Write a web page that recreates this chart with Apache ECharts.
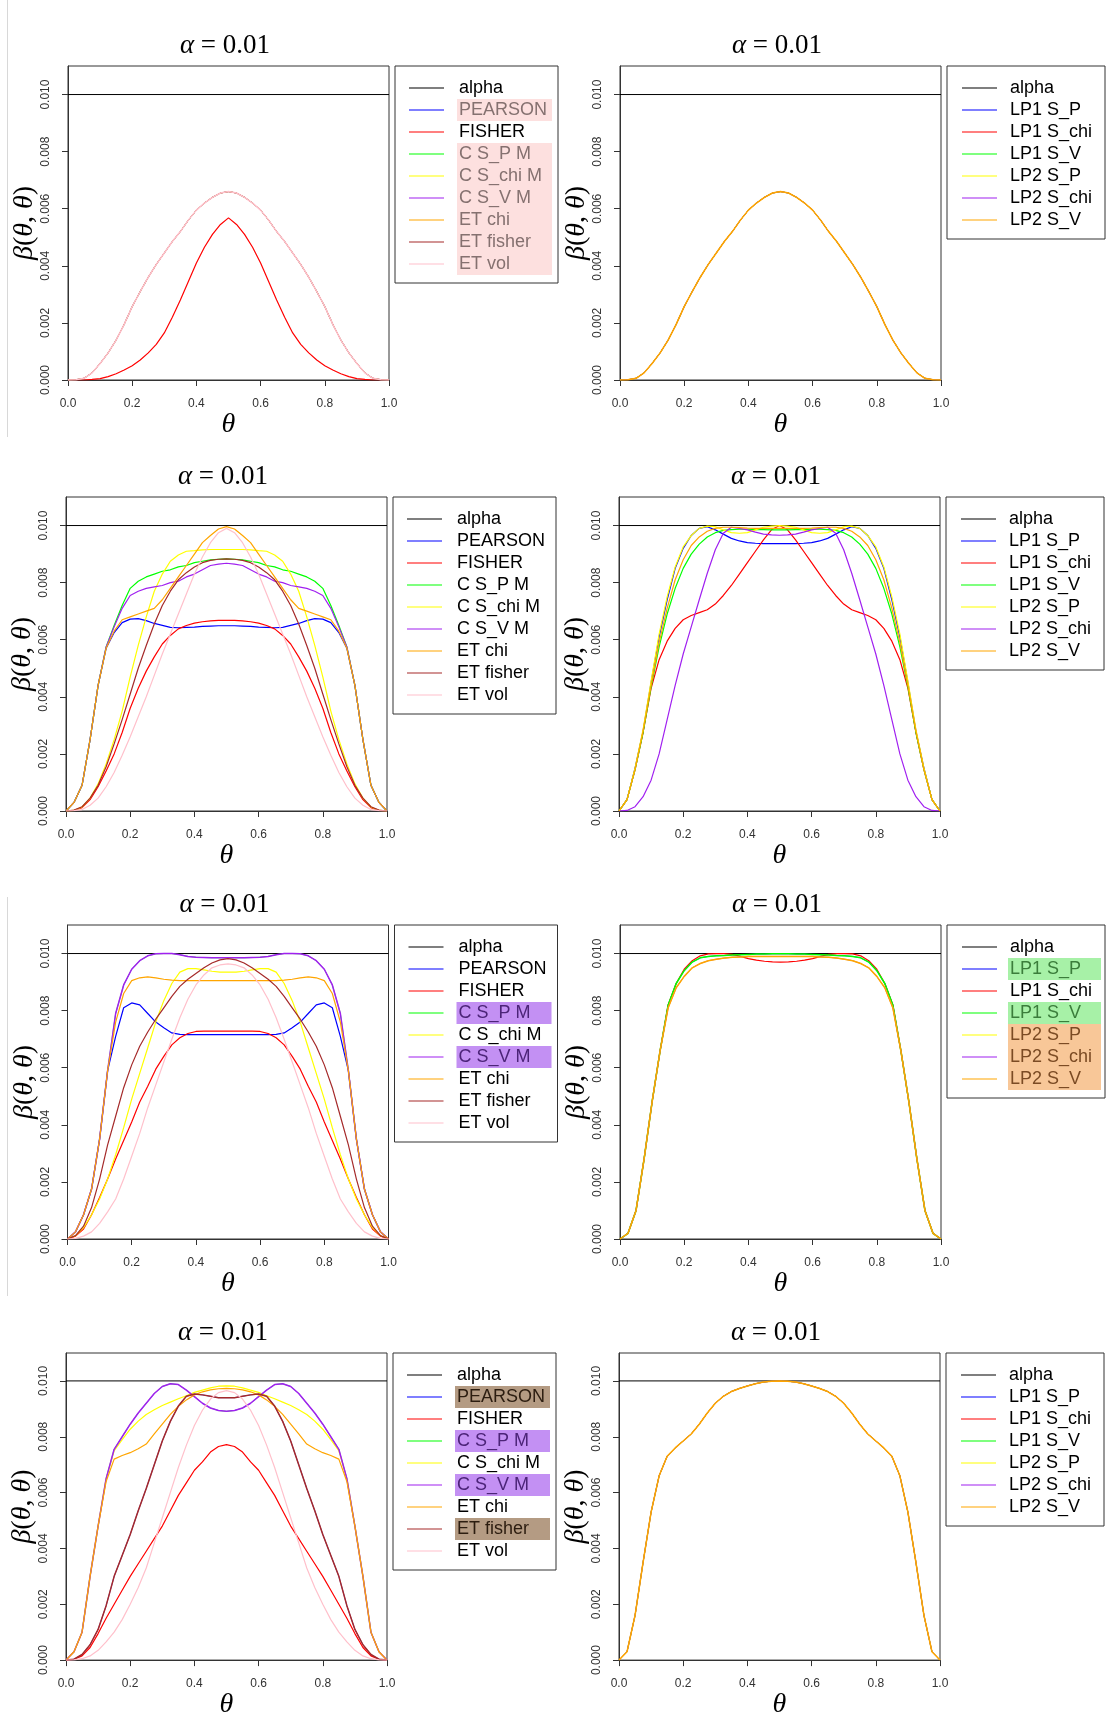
<!DOCTYPE html>
<html>
<head>
<meta charset="utf-8">
<script src="https://cdn.jsdelivr.net/npm/echarts@6/dist/echarts.min.js"></script>
<style>
  html, body { margin: 0; padding: 0; background: #ffffff; }
  #chart { width: 1108px; height: 1720px; }
</style>
</head>
<body>
<div id="chart"></div>
<script>
// Size of the test, beta(theta, theta), on a grid of theta values.
// Curve values are given in units of 1e-3.
const theta = [0,0.025,0.05,0.075,0.1,0.125,0.15,0.175,0.2,0.225,0.25,0.275,0.3,0.325,0.35,0.375,0.4,0.425,0.45,0.475,0.5,
  0.525,0.55,0.575,0.6,0.625,0.65,0.675,0.7,0.725,0.75,0.775,0.8,0.825,0.85,0.875,0.9,0.925,0.95,0.975,1];

const alphaLevel = 0.01;
const yTicks = [0, 0.002, 0.004, 0.006, 0.008, 0.010];

const namesET = ['alpha', 'PEARSON', 'FISHER', 'C S_P M', 'C S_chi M', 'C S_V M', 'ET chi', 'ET fisher', 'ET vol'];
const colorsET = ['#000000', '#0000FF', '#FF0000', '#00FF00', '#FFFF00', '#A020F0', '#FFA500', '#A52A2A', '#FFC0CB'];
const namesLP = ['alpha', 'LP1 S_P', 'LP1 S_chi', 'LP1 S_V', 'LP2 S_P', 'LP2 S_chi', 'LP2 S_V'];
const colorsLP = ['#000000', '#0000FF', '#FF0000', '#00FF00', '#FFFF00', '#A020F0', '#FFA500'];

// Row 1
const r1Common = [0,0.01,0.06,0.25,0.58,0.95,1.4,1.95,2.57,3.1,3.6,4.05,4.45,4.85,5.2,5.6,5.95,6.2,6.4,6.55,6.6,6.55,6.4,6.2,5.95,5.6,5.2,4.85,4.45,4.05,3.6,3.1,2.57,1.95,1.4,0.95,0.58,0.25,0.06,0.01,0];
const r1Fisher = [0,0,0,0.02,0.05,0.12,0.22,0.35,0.5,0.7,0.95,1.25,1.65,2.2,2.8,3.45,4.1,4.65,5.1,5.45,5.68,5.45,5.1,4.65,4.1,3.45,2.8,2.2,1.65,1.25,0.95,0.7,0.5,0.35,0.22,0.12,0.05,0.02,0,0,0];

// Row 2, left
const r2Pearson = [0,0.3,0.9,2.5,4.4,5.7,6.25,6.6,6.72,6.74,6.67,6.57,6.5,6.43,6.42,6.43,6.44,6.47,6.48,6.49,6.49,6.49,6.48,6.47,6.44,6.43,6.42,6.43,6.5,6.57,6.67,6.74,6.72,6.6,6.25,5.7,4.4,2.5,0.9,0.3,0];
const r2Fisher = [0,0.02,0.12,0.4,0.85,1.4,2.0,2.75,3.6,4.3,4.9,5.4,5.85,6.15,6.38,6.5,6.58,6.63,6.66,6.68,6.68,6.68,6.66,6.63,6.58,6.5,6.38,6.15,5.85,5.4,4.9,4.3,3.6,2.75,2.0,1.4,0.85,0.4,0.12,0.02,0];
const r2CsP = [0,0.3,0.9,2.5,4.4,5.75,6.5,7.2,7.8,8.05,8.2,8.3,8.4,8.45,8.55,8.6,8.7,8.75,8.8,8.82,8.83,8.82,8.8,8.75,8.7,8.6,8.55,8.45,8.4,8.3,8.2,8.05,7.8,7.2,6.5,5.75,4.4,2.5,0.9,0.3,0];
const r2CsChi = [0,0.02,0.14,0.45,0.95,1.65,2.5,3.5,4.7,5.8,6.8,7.7,8.3,8.75,8.97,9.1,9.12,9.15,9.16,9.16,9.16,9.16,9.16,9.15,9.12,9.1,8.97,8.75,8.3,7.7,6.8,5.8,4.7,3.5,2.5,1.65,0.95,0.45,0.14,0.02,0];
const r2CsV = [0,0.3,0.9,2.5,4.4,5.75,6.45,7.1,7.55,7.7,7.8,7.85,7.9,8.0,8.05,8.2,8.3,8.45,8.6,8.65,8.68,8.65,8.6,8.45,8.3,8.2,8.05,8.0,7.9,7.85,7.8,7.7,7.55,7.1,6.45,5.75,4.4,2.5,0.9,0.3,0];
const r2EtChi = [0,0.3,0.9,2.5,4.4,5.7,6.3,6.7,6.8,6.9,7.0,7.1,7.4,7.8,8.2,8.6,9.0,9.4,9.65,9.88,9.96,9.88,9.65,9.4,9.0,8.6,8.2,7.8,7.4,7.1,7.0,6.9,6.8,6.7,6.3,5.7,4.4,2.5,0.9,0.3,0];
const r2EtFisher = [0,0.03,0.15,0.45,0.9,1.55,2.35,3.2,4.1,5.0,5.8,6.55,7.2,7.7,8.1,8.35,8.55,8.7,8.78,8.82,8.83,8.82,8.78,8.7,8.55,8.35,8.1,7.7,7.2,6.55,5.8,5.0,4.1,3.2,2.35,1.55,0.9,0.45,0.15,0.03,0];
const r2EtVol = [0,0.01,0.05,0.2,0.45,0.85,1.35,1.95,2.6,3.3,4.0,4.75,5.5,6.2,6.9,7.6,8.3,8.9,9.4,9.75,9.9,9.75,9.4,8.9,8.3,7.6,6.9,6.2,5.5,4.75,4.0,3.3,2.6,1.95,1.35,0.85,0.45,0.2,0.05,0.01,0];

// Row 2, right
const r2Lp1SP = [0,0.4,1.5,2.8,4.5,6.1,7.4,8.5,9.2,9.65,9.9,9.96,9.85,9.7,9.55,9.46,9.4,9.38,9.37,9.37,9.37,9.37,9.37,9.38,9.4,9.46,9.55,9.7,9.85,9.96,9.9,9.65,9.2,8.5,7.4,6.1,4.5,2.8,1.5,0.4,0];
const r2Lp1SChi = [0,0.4,1.45,2.75,4.3,5.3,5.95,6.4,6.7,6.85,6.95,7.05,7.25,7.55,7.9,8.3,8.7,9.1,9.5,9.85,10.0,9.85,9.5,9.1,8.7,8.3,7.9,7.55,7.25,7.05,6.95,6.85,6.7,6.4,5.95,5.3,4.3,2.75,1.45,0.4,0];
const r2Lp1SV = [0,0.4,1.45,2.75,4.35,5.75,6.9,7.8,8.5,9.0,9.35,9.6,9.75,9.83,9.86,9.87,9.87,9.86,9.86,9.85,9.85,9.85,9.86,9.86,9.87,9.87,9.86,9.83,9.75,9.6,9.35,9.0,8.5,7.8,6.9,5.75,4.35,2.75,1.45,0.4,0];
const r2Lp2SP = [0,0.4,1.5,2.85,4.55,6.2,7.5,8.55,9.25,9.65,9.9,9.98,9.96,9.85,9.75,9.73,9.75,9.85,9.94,9.98,10.0,9.98,9.94,9.85,9.75,9.73,9.75,9.85,9.96,9.98,9.9,9.65,9.25,8.55,7.5,6.2,4.55,2.85,1.5,0.4,0];
const r2Lp2SChi = [0,0.02,0.15,0.5,1.08,2.0,3.2,4.4,5.5,6.45,7.4,8.33,9.15,9.73,9.94,9.9,9.85,9.77,9.7,9.67,9.66,9.67,9.7,9.77,9.85,9.9,9.94,9.73,9.15,8.33,7.4,6.45,5.5,4.4,3.2,2.0,1.08,0.5,0.15,0.02,0];
const r2Lp2SV = [0,0.4,1.45,2.8,4.4,5.9,7.1,8.1,8.8,9.3,9.6,9.8,9.9,9.94,9.94,9.93,9.91,9.9,9.9,9.9,9.9,9.9,9.9,9.9,9.91,9.93,9.94,9.94,9.9,9.8,9.6,9.3,8.8,8.1,7.1,5.9,4.4,2.8,1.45,0.4,0];

// Row 3, left
const r3Pearson = [0,0.25,0.85,1.75,3.5,5.9,7.1,8.1,8.27,8.2,7.9,7.6,7.4,7.22,7.17,7.16,7.16,7.16,7.16,7.16,7.16,7.16,7.16,7.16,7.16,7.16,7.17,7.22,7.4,7.6,7.9,8.2,8.27,8.1,7.1,5.9,3.5,1.75,0.85,0.25,0];
const r3Fisher = [0,0.1,0.35,0.85,1.45,2.1,2.8,3.45,4.1,4.8,5.35,5.95,6.4,6.8,7.05,7.2,7.27,7.28,7.28,7.28,7.28,7.28,7.28,7.28,7.27,7.2,7.05,6.8,6.4,5.95,5.35,4.8,4.1,3.45,2.8,2.1,1.45,0.85,0.35,0.1,0];
const r3CsPV = [0,0.25,0.85,1.75,3.5,5.9,7.9,8.9,9.45,9.75,9.92,9.99,10.0,10.0,9.96,9.9,9.87,9.86,9.85,9.85,9.85,9.85,9.85,9.86,9.87,9.9,9.96,10.0,10.0,9.99,9.92,9.75,9.45,8.9,7.9,5.9,3.5,1.75,0.85,0.25,0];
const r3CsChi = [0,0.12,0.4,0.85,1.4,2.1,2.95,3.9,4.9,5.8,6.7,7.6,8.35,8.95,9.35,9.47,9.47,9.43,9.38,9.35,9.35,9.35,9.38,9.43,9.47,9.47,9.35,8.95,8.35,7.6,6.7,5.8,4.9,3.9,2.95,2.1,1.4,0.85,0.4,0.12,0];
const r3EtChi = [0,0.25,0.85,1.75,3.5,5.9,7.6,8.6,9.05,9.15,9.18,9.15,9.1,9.07,9.05,9.05,9.05,9.05,9.05,9.05,9.05,9.05,9.05,9.05,9.05,9.05,9.05,9.07,9.1,9.15,9.18,9.15,9.05,8.6,7.6,5.9,3.5,1.75,0.85,0.25,0];
const r3EtFisher = [0,0.12,0.45,1.1,2.1,3.3,4.3,5.3,6.1,6.75,7.25,7.7,8.1,8.5,8.85,9.1,9.3,9.5,9.67,9.78,9.82,9.78,9.67,9.5,9.3,9.1,8.85,8.5,8.1,7.7,7.25,6.75,6.1,5.3,4.3,3.3,2.1,1.1,0.45,0.12,0];
const r3EtVol = [0,0.02,0.1,0.25,0.55,0.95,1.4,2.1,2.9,3.7,4.6,5.4,6.2,7.0,7.75,8.4,8.9,9.25,9.5,9.6,9.64,9.6,9.5,9.25,8.9,8.4,7.75,7.0,6.2,5.4,4.6,3.7,2.9,2.1,1.4,0.95,0.55,0.25,0.1,0.02,0];

// Row 3, right
const r3Lp1SPV = [0,0.2,1.0,2.8,4.8,6.6,8.2,8.95,9.4,9.7,9.85,9.9,9.92,9.93,9.95,9.96,9.97,9.98,9.98,9.99,9.99,9.99,9.98,9.98,9.97,9.96,9.95,9.93,9.92,9.9,9.85,9.7,9.4,8.95,8.2,6.6,4.8,2.8,1.0,0.2,0];
const r3Lp1SChi = [0,0.2,1.0,2.8,4.8,6.6,8.2,8.95,9.45,9.75,9.92,9.99,10.0,10.0,9.97,9.9,9.82,9.77,9.73,9.71,9.7,9.71,9.73,9.77,9.82,9.9,9.97,10.0,10.0,9.99,9.92,9.75,9.45,8.95,8.2,6.6,4.8,2.8,1.0,0.2,0];
const r3Lp2 = [0,0.2,1.0,2.8,4.8,6.6,8.1,8.8,9.2,9.5,9.65,9.75,9.8,9.84,9.87,9.88,9.9,9.9,9.9,9.9,9.9,9.9,9.9,9.9,9.9,9.88,9.87,9.84,9.8,9.75,9.65,9.5,9.2,8.8,8.1,6.6,4.8,2.8,1.0,0.2,0];

// Row 4, left
const r4PearsonEtFisher = [0,0.03,0.2,0.55,1.1,1.95,3.0,3.75,4.5,5.35,6.15,7.0,7.85,8.55,9.1,9.45,9.53,9.5,9.45,9.4,9.4,9.4,9.45,9.5,9.53,9.45,9.1,8.55,7.85,7.0,6.15,5.35,4.5,3.75,3.0,1.95,1.1,0.55,0.2,0.03,0];
const r4Fisher = [0,0.03,0.15,0.45,0.95,1.5,2.0,2.5,3.0,3.45,3.9,4.35,4.8,5.35,5.9,6.35,6.8,7.1,7.45,7.65,7.72,7.65,7.45,7.1,6.8,6.35,5.9,5.35,4.8,4.35,3.9,3.45,3.0,2.5,2.0,1.5,0.95,0.45,0.15,0.03,0];
const r4CsPV = [0,0.3,1.0,3.0,4.8,6.5,7.55,8.0,8.45,8.85,9.2,9.55,9.8,9.9,9.87,9.67,9.44,9.2,9.03,8.94,8.91,8.94,9.03,9.2,9.44,9.67,9.87,9.9,9.8,9.55,9.2,8.85,8.45,8.0,7.55,6.5,4.8,3.0,1.0,0.3,0];
const r4CsChi = [0,0.3,1.0,3.0,4.8,6.5,7.5,7.9,8.27,8.56,8.8,8.97,9.12,9.24,9.36,9.47,9.59,9.67,9.75,9.81,9.82,9.81,9.75,9.67,9.59,9.47,9.36,9.24,9.12,8.97,8.8,8.56,8.27,7.9,7.5,6.5,4.8,3.0,1.0,0.3,0];
const r4EtChi = [0,0.3,1.0,3.0,4.8,6.4,7.2,7.33,7.43,7.57,7.74,8.1,8.45,8.8,9.09,9.32,9.5,9.61,9.68,9.72,9.73,9.72,9.68,9.61,9.5,9.32,9.09,8.8,8.45,8.1,7.74,7.57,7.43,7.33,7.2,6.4,4.8,3.0,1.0,0.3,0];
const r4EtVol = [0,0.01,0.05,0.15,0.35,0.65,1.0,1.45,2.0,2.6,3.3,4.2,5.1,6.0,6.9,7.7,8.4,8.95,9.35,9.58,9.65,9.58,9.35,8.95,8.4,7.7,6.9,6.0,5.1,4.2,3.3,2.6,2.0,1.45,1.0,0.65,0.35,0.15,0.05,0.01,0];

// Row 4, right
const r4Lp = [0,0.3,1.6,3.5,5.3,6.6,7.3,7.6,7.85,8.1,8.45,8.85,9.2,9.45,9.62,9.73,9.82,9.9,9.96,9.99,10.0,9.99,9.96,9.9,9.82,9.73,9.62,9.45,9.2,8.85,8.45,8.1,7.85,7.6,7.3,6.6,5.3,3.5,1.6,0.3,0];

// Which legend entries share a shaded band in each panel
const panels = [
  { names: namesET, colors: colorsET,
    curves: [r1Common, r1Fisher, r1Common, r1Common, r1Common, r1Common, r1Common, r1Common],
    marks: { 'PEARSON': 'pink', 'C S_P M': 'pink', 'C S_chi M': 'pink', 'C S_V M': 'pink', 'ET chi': 'pink', 'ET fisher': 'pink', 'ET vol': 'pink' } },
  { names: namesLP, colors: colorsLP,
    curves: [r1Common, r1Common, r1Common, r1Common, r1Common, r1Common],
    marks: {} },
  { names: namesET, colors: colorsET,
    curves: [r2Pearson, r2Fisher, r2CsP, r2CsChi, r2CsV, r2EtChi, r2EtFisher, r2EtVol],
    marks: {} },
  { names: namesLP, colors: colorsLP,
    curves: [r2Lp1SP, r2Lp1SChi, r2Lp1SV, r2Lp2SP, r2Lp2SChi, r2Lp2SV],
    marks: {} },
  { names: namesET, colors: colorsET,
    curves: [r3Pearson, r3Fisher, r3CsPV, r3CsChi, r3CsPV, r3EtChi, r3EtFisher, r3EtVol],
    marks: { 'C S_P M': 'violet', 'C S_V M': 'violet' } },
  { names: namesLP, colors: colorsLP,
    curves: [r3Lp1SPV, r3Lp1SChi, r3Lp1SPV, r3Lp2, r3Lp2, r3Lp2],
    marks: { 'LP1 S_P': 'mint', 'LP1 S_V': 'mint', 'LP2 S_P': 'peach', 'LP2 S_chi': 'peach', 'LP2 S_V': 'peach' } },
  { names: namesET, colors: colorsET,
    curves: [r4PearsonEtFisher, r4Fisher, r4CsPV, r4CsChi, r4CsPV, r4EtChi, r4PearsonEtFisher, r4EtVol],
    marks: { 'PEARSON': 'tan', 'ET fisher': 'tan', 'C S_P M': 'violet', 'C S_V M': 'violet' } },
  { names: namesLP, colors: colorsLP,
    curves: [r4Lp, r4Lp, r4Lp, r4Lp, r4Lp, r4Lp],
    marks: {} }
];

// Layout of the 4 x 2 panel grid (pixels)
const rowTops = [66, 497, 925, 1353];
const boxLefts = [[68, 620], [66, 619], [67.5, 620], [66, 619]];
const boxW = 321, boxH = 314;

const sansFont = '"Liberation Sans", Arial, Helvetica, sans-serif';
const serifFont = '"Liberation Serif", "DejaVu Serif", "Times New Roman", serif';

function tokenStyle(bg, fg, w) {
  const s = { color: fg, width: w, height: 22, lineHeight: 22, padding: [0, 0, 0, 2], fontSize: 18, fontFamily: sansFont };
  if (bg) s.backgroundColor = bg;
  return s;
}

const option = {
  animation: false,
  backgroundColor: '#ffffff',
  title: [], grid: [], xAxis: [], yAxis: [], legend: [], series: [],
  graphic: [
    { type: 'line', shape: { x1: 7.5, y1: 0, x2: 7.5, y2: 437 }, style: { stroke: '#d8d8d8', lineWidth: 1 } },
    { type: 'line', shape: { x1: 7.5, y1: 897, x2: 7.5, y2: 1296 }, style: { stroke: '#d8d8d8', lineWidth: 1 } }
  ]
};

panels.forEach((p, i) => {
  const row = Math.floor(i / 2), col = i % 2;
  const left = boxLefts[row][col];
  const top = rowTops[row];
  const blockW = col === 0 ? 93 : 91;
  const spacer = col === 0 ? 8 : 6;

  option.title.push({
    text: '{a|α} = 0.01',
    left: left + boxW / 2 - 3.5, top: top - 36, textAlign: 'center', padding: 0,
    textStyle: {
      fontFamily: serifFont, fontSize: 27, fontWeight: 'normal', color: '#000', lineHeight: 32,
      rich: { a: { fontFamily: serifFont, fontSize: 27, fontStyle: 'italic', color: '#000', lineHeight: 32 } }
    }
  });

  option.grid.push({ left: left, top: top, width: boxW, height: boxH, show: true,
    borderColor: '#333', borderWidth: 1, backgroundColor: 'transparent' });

  option.xAxis.push({
    gridIndex: i, type: 'value', min: 0, max: 1, interval: 0.2,
    axisLine: { show: true, onZero: false, lineStyle: { color: '#333', width: 1 } },
    axisTick: { show: true, length: 6, lineStyle: { color: '#333' } },
    axisLabel: { formatter: v => v.toFixed(1), fontSize: 12, color: '#333', margin: 18, fontFamily: sansFont,
      showMinLabel: true, showMaxLabel: true },
    splitLine: { show: false },
    name: 'θ', nameLocation: 'middle', nameGap: 24,
    nameTextStyle: { fontFamily: serifFont, fontStyle: 'italic', fontSize: 28, color: '#000' }
  });

  option.yAxis.push({
    gridIndex: i, type: 'value', min: 0, max: 0.011,
    axisLine: { show: true, onZero: false, lineStyle: { color: '#333', width: 1 } },
    axisTick: { show: true, length: 6, lineStyle: { color: '#333' }, customValues: yTicks },
    axisLabel: { customValues: yTicks, rotate: 90, formatter: v => v.toFixed(3), fontSize: 12,
      color: '#333', margin: 16, fontFamily: sansFont },
    splitLine: { show: false },
    name: '{i|β}({i|θ}, {i|θ})', nameLocation: 'middle', nameRotate: 90, nameGap: 13,
    nameTextStyle: { fontFamily: serifFont, fontSize: 28, color: '#000',
      rich: { i: { fontFamily: serifFont, fontSize: 28, fontStyle: 'italic', color: '#000' } } }
  });

  const marks = p.marks;
  option.legend.push({
    orient: 'vertical', left: left + boxW + 6, top: top,
    padding: col === 0 ? [11, 6, 8, 14] : [11, 4, 8, 15],
    itemGap: 0, itemWidth: 35, itemHeight: 1.2, icon: 'rect',
    borderColor: '#333', borderWidth: 1, backgroundColor: '#fff',
    selectedMode: false,
    data: p.names,
    formatter: name => '{s| }{' + (marks[name] || 'n') + '|' + name + '}',
    textStyle: {
      fontFamily: sansFont, fontSize: 18, color: '#000', lineHeight: 22,
      rich: {
        s: { width: spacer, height: 22, lineHeight: 22, fontSize: 18 },
        n: tokenStyle(null, '#000', blockW),
        pink: tokenStyle('#fde0df', '#857170', blockW),
        violet: tokenStyle('#c390f3', '#4c2478', blockW),
        mint: tokenStyle('#a7f1a7', '#3b7d3b', blockW),
        peach: tokenStyle('#f8c798', '#7b4b24', blockW),
        tan: tokenStyle('#b49b83', '#2c1d10', blockW)
      }
    }
  });

  option.series.push({
    name: 'alpha', type: 'line', xAxisIndex: i, yAxisIndex: i,
    data: [[0, alphaLevel], [1, alphaLevel]],
    symbol: 'none', color: '#000000', lineStyle: { width: 1, color: '#000000' }, silent: true
  });
  p.curves.forEach((vals, k) => {
    const c = p.colors[k + 1];
    // identical curves overlap exactly: keep the covered ones thin so the top one reads cleanly
    const coveredLater = p.curves.slice(k + 1).includes(vals);
    const repeats = p.curves.slice(0, k).includes(vals);
    const w = coveredLater ? 0.7 : (repeats ? 1.5 : 1.2);
    option.series.push({
      name: p.names[k + 1], type: 'line', xAxisIndex: i, yAxisIndex: i,
      data: theta.map((t, j) => [t, vals[j] / 1000]),
      symbol: 'none', color: c, lineStyle: { width: w, color: c }, silent: true
    });
  });
});

const chart = echarts.init(document.getElementById('chart'), null, { renderer: 'canvas' });
chart.setOption(option);
</script>
</body>
</html>
